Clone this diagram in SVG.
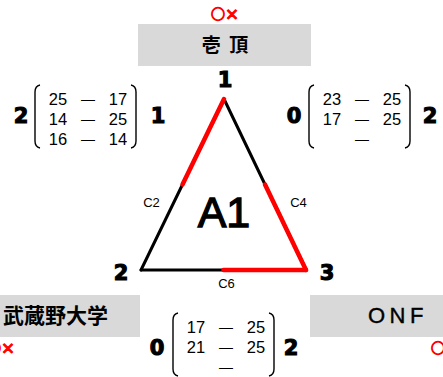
<svg xmlns="http://www.w3.org/2000/svg" width="443" height="377" viewBox="0 0 443 377">
<style>
.box{fill:#d9d9d9}
.mark{font-family:"Noto Sans CJK JP","DejaVu Sans",sans-serif;font-size:14px;font-weight:bold;fill:#ff0000;stroke:#ff0000;stroke-width:1.1}
.team{font-family:"Noto Sans CJK JP","Noto Sans CJK SC",sans-serif;font-weight:bold;fill:#000}
.big{font-family:"DejaVu Sans","Liberation Sans",sans-serif;font-weight:bold;font-size:21px;fill:#000;stroke:#000;stroke-width:1.1;text-anchor:middle}
.num{font-family:"Liberation Sans",Arial,sans-serif;font-size:16.5px;fill:#000;text-anchor:middle}
.dash{font-size:14px}
.lbl{font-family:"Liberation Sans",Arial,sans-serif;font-size:13px;fill:#000;text-anchor:middle}
.br{fill:none;stroke:#000;stroke-width:1.4}
.blk{stroke:#000;stroke-width:3;stroke-linecap:round}
.red{stroke:#ff0000;stroke-width:4.5;stroke-linecap:round}
</style>

<g id="team-top">
<text class="mark" x="211" y="19">○×</text>
<rect class="box" x="138" y="24" width="173" height="42"/>
<text class="team" x="226" y="52" font-size="19" text-anchor="middle" letter-spacing="2">壱 頂</text>
</g>

<g id="team-left">
<rect class="box" x="0" y="295" width="140" height="42"/>
<text class="team" x="3" y="323" font-size="21">武蔵野大学</text>
<text class="mark" x="-13" y="353">○×</text>
</g>

<g id="team-right">
<rect class="box" x="310" y="295" width="133" height="42"/>
<text x="368" y="323" font-family="Liberation Sans,Arial,sans-serif" font-size="22" letter-spacing="4.5" fill="#000" stroke="#000" stroke-width="0.4">ONF</text>
<text class="mark" x="431" y="353">○×</text>
</g>

<g id="connectors">
<line class="blk" x1="224" y1="99" x2="141" y2="270"/>
<line class="blk" x1="224" y1="99" x2="306" y2="270"/>
<line class="blk" x1="141" y1="270" x2="306" y2="270"/>
<line class="red" x1="224" y1="99" x2="182.5" y2="184.5"/>
<line class="red" x1="265" y1="184.5" x2="306" y2="270"/>
<line class="red" x1="223.5" y1="270" x2="306" y2="270"/>
<text class="lbl" x="151.5" y="207">C2</text>
<text class="lbl" x="298.5" y="207">C4</text>
<text class="lbl" x="226.5" y="288">C6</text>
</g>

<g id="center">
<text x="224" y="227" font-family="Liberation Sans,Arial,sans-serif" font-size="43" text-anchor="middle" fill="#000" stroke="#000" stroke-width="1.3">A1</text>
</g>

<g id="vertices">
<text class="big" x="225" y="87">1</text>
<text class="big" x="121" y="280">2</text>
<text class="big" x="327" y="280">3</text>
</g>

<g id="match-1-2">
<text class="big" x="21" y="123">2</text>
<path class="br" d="M40,85 Q35,86 35,92 L35,141 Q35,147 40,148"/>
<text class="num"><tspan x="58" y="105">25</tspan><tspan class="dash" x="88" y="104">—</tspan><tspan x="118" y="105">17</tspan></text>
<text class="num"><tspan x="58" y="125">14</tspan><tspan class="dash" x="88" y="124">—</tspan><tspan x="118" y="125">25</tspan></text>
<text class="num"><tspan x="58" y="145">16</tspan><tspan class="dash" x="88" y="144">—</tspan><tspan x="118" y="145">14</tspan></text>
<path class="br" d="M131,85 Q136,86 136,92 L136,141 Q136,147 131,148"/>
<text class="big" x="158" y="123">1</text>
</g>

<g id="match-1-3">
<text class="big" x="294" y="123">0</text>
<path class="br" d="M314,85 Q309,86 309,92 L309,141 Q309,147 314,148"/>
<text class="num"><tspan x="332" y="105">23</tspan><tspan class="dash" x="362" y="104">—</tspan><tspan x="392" y="105">25</tspan></text>
<text class="num"><tspan x="332" y="125">17</tspan><tspan class="dash" x="362" y="124">—</tspan><tspan x="392" y="125">25</tspan></text>
<text class="num"><tspan class="dash" x="362" y="144">—</tspan></text>
<path class="br" d="M405,85 Q410,86 410,92 L410,141 Q410,147 405,148"/>
<text class="big" x="430" y="123">2</text>
</g>

<g id="match-2-3">
<text class="big" x="157" y="355">0</text>
<path class="br" d="M178,313 Q173,314 173,320 L173,369 Q173,375 178,376"/>
<text class="num"><tspan x="196" y="333">17</tspan><tspan class="dash" x="226" y="332">—</tspan><tspan x="256" y="333">25</tspan></text>
<text class="num"><tspan x="196" y="353">21</tspan><tspan class="dash" x="226" y="352">—</tspan><tspan x="256" y="353">25</tspan></text>
<text class="num"><tspan class="dash" x="226" y="372">—</tspan></text>
<path class="br" d="M269,313 Q274,314 274,320 L274,369 Q274,375 269,376"/>
<text class="big" x="291" y="355">2</text>
</g>
</svg>
